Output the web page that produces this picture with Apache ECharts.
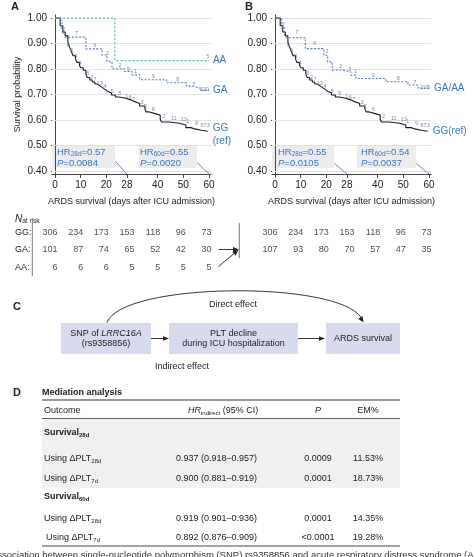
<!DOCTYPE html>
<html><head><meta charset="utf-8">
<script src="https://cdn.jsdelivr.net/npm/echarts@6/dist/echarts.min.js"></script>
<style>html,body{margin:0;padding:0;background:#fff}#c{width:474px;height:557px}</style>
</head><body><div id="c"></div>
<script>
// ---------------- DATA ----------------
const xTicks = [0, 10, 20, 28, 40, 50, 60];
const yTicks = [0.4, 0.5, 0.6, 0.7, 0.8, 0.9, 1.0];

// Kaplan-Meier curves [day, survival]
const ggCurve = [[0,1.00],[2,0.97],[3,0.945],[4,0.93],[5,0.905],[5.5,0.89],[6,0.877],[6.5,0.865],[7,0.852],[8,0.838],[8.5,0.826],[9.5,0.815],[10,0.805],[11,0.795],[12,0.78],[12.5,0.767],[13.5,0.757],[14.5,0.749],[15.5,0.741],[16.5,0.734],[17.5,0.727],[18.5,0.72],[19.5,0.713],[20.5,0.706],[22,0.698],[23.5,0.69],[25,0.685],[27.5,0.679],[29.5,0.672],[31,0.665],[33,0.655],[35,0.645],[35.5,0.632],[36.5,0.625],[39,0.619],[41,0.603],[41.5,0.592],[44.5,0.587],[48.5,0.58],[51,0.57],[53,0.565],[54.5,0.56],[57,0.556],[59.5,0.556]];
const gaCurve = [[0,1.00],[2,0.965],[3,0.94],[3.8,0.925],[12,0.879],[18.3,0.855],[20.2,0.829],[22.2,0.801],[27,0.79],[30,0.777],[33,0.758],[43.5,0.746],[51.3,0.733],[52.8,0.726],[56.5,0.717],[60,0.717]];
const aaCurve = [[0,1.00],[23.3,0.833],[60,0.833]];
const gaaaCurve = [[0,1.00],[2.6,0.967],[3.5,0.94],[4,0.923],[11.8,0.88],[19,0.854],[20.5,0.828],[22.3,0.796],[26.2,0.789],[29.5,0.776],[31.5,0.763],[43.2,0.75],[51.8,0.737],[55.7,0.725],[60,0.725]];

// censoring counts printed along the curves [day, survival, count]
const ggCensor = [[2.7,0.962,'2'],[5.2,0.893,'6'],[6.5,0.872,'6'],[8,0.848,'3'],[9.7,0.823,'4'],[12.8,0.782,'6'],[14.3,0.768,'2'],[15.6,0.757,'7'],[17.4,0.744,'13'],[19.5,0.73,'4'],[22.3,0.713,'5'],[25.2,0.705,'5'],[28,0.693,'1'],[29.3,0.689,'6'],[30.7,0.681,'7'],[33.9,0.667,'3'],[35.2,0.652,'2'],[38.3,0.643,'6'],[42.3,0.615,'2'],[46.3,0.604,'11'],[50.2,0.6,'13'],[51.7,0.594,'1'],[55.2,0.588,'9'],[58.5,0.58,'673']];
const gaCensor = [[2.6,0.982,'2'],[3.4,0.955,'2'],[8.4,0.94,'7'],[15.6,0.893,'6'],[20.5,0.862,'2'],[25.3,0.812,'2'],[28.6,0.8,'5'],[31.4,0.79,'1'],[38.3,0.772,'9'],[47.8,0.76,'8'],[54.2,0.741,'7'],[58.2,0.72,'220']];
const aaCensor = [[59.5,0.848,'5']];
const gaaaCensor = [[3.2,0.975,'2'],[8.5,0.942,'7'],[15.5,0.902,'6'],[20.3,0.868,'2'],[25.6,0.81,'2'],[29.1,0.8,'3'],[31.5,0.792,'1'],[38.3,0.774,'9'],[48,0.762,'8'],[54.5,0.748,'7'],[58.6,0.726,'225']];

// hazard-ratio annotations
const hrA = [['28d','0.57','0.0084'],['60d','0.55','0.0020']];
const hrB = [['28d','0.55','0.0105'],['60d','0.54','0.0037']];

// numbers at risk
const riskDays = [0, 10, 20, 30, 40, 50, 60];
const riskGroups = ['GG', 'GA', 'AA'];
const riskA_GG = [306, 234, 173, 153, 118, 96, 73];
const riskA_GA = [101, 87, 74, 65, 52, 42, 30];
const riskA_AA = [6, 6, 6, 5, 5, 5, 5];
const riskB_GG = [306, 234, 173, 153, 118, 96, 73];
const riskB_GAAA = [107, 93, 80, 70, 57, 47, 35];

// mediation table
const tblGroups = ['28d', '60d'];
const tblPlt = ['28d', '7d', '28d', '7d'];
const tblHR = ['0.937 (0.918\u20130.957)', '0.900 (0.881\u20130.919)', '0.919 (0.901\u20130.936)', '0.892 (0.876\u20130.909)'];
const tblP = ['0.0009', '0.0001', '0.0001', '<0.0001'];
const tblEM = ['11.53%', '18.73%', '14.35%', '19.28%'];

// ---------------- STYLE ----------------
const FONT = '"Liberation Sans", Arial, Helvetica, sans-serif';
const BLUE = '#3a78c4';
const NUMC = '#4f6ea8';
const GA_COL = '#5a7dbd';
const AA_COL = '#45c59c';
const TXT = '#222';

const chart = echarts.init(document.getElementById('c'), null, {renderer: 'canvas', width: 474, height: 557});

const XMIN = -1.2, XMAX = 60.8, YMIN = 0.388, YMAX = 1.012;

function plotX(gi) {
  return {type: 'value', gridIndex: gi, min: XMIN, max: XMAX,
    name: 'ARDS survival (days after ICU admission)', nameLocation: 'middle', nameGap: 23,
    nameTextStyle: {fontSize: 9, color: TXT, fontFamily: FONT},
    axisLine: {show: true, onZero: false, lineStyle: {color: '#444', width: 1}},
    axisTick: {show: true, customValues: xTicks, length: 4, lineStyle: {color: '#444'}},
    axisLabel: {customValues: xTicks, fontSize: 10, color: TXT, margin: 6, fontFamily: FONT},
    splitLine: {show: false}};
}
function plotY(gi, named) {
  return {type: 'value', gridIndex: gi, min: YMIN, max: YMAX,
    name: named ? 'Survival probability' : '', nameLocation: 'middle', nameGap: 30,
    nameTextStyle: {fontSize: 9, color: TXT, fontFamily: FONT},
    axisLine: {show: true, lineStyle: {color: '#444', width: 1}},
    axisTick: {show: true, customValues: yTicks, length: 4, lineStyle: {color: '#444'}},
    axisLabel: {customValues: yTicks, formatter: v => v.toFixed(2), fontSize: 10, color: TXT, margin: 5, fontFamily: FONT},
    splitLine: {show: false}};
}
function riskX(gi) { return {type: 'value', gridIndex: gi, min: XMIN, max: XMAX, show: false}; }
function riskY(gi, showLabels) {
  return {type: 'category', gridIndex: gi, data: riskGroups, inverse: true,
    axisLine: {show: false}, axisTick: {show: false}, splitLine: {show: false},
    axisLabel: {show: showLabels, align: 'left', margin: 37, formatter: v => v + ':', fontSize: 9, color: TXT, fontFamily: FONT}};
}

const gridMarks = yTicks.map(v => ({yAxis: v, lineStyle: {color: '#e2e2e2', width: 1, type: 'solid'}}));
function diag(x1, y1, x2, y2) {
  return [{coord: [x1, y1], lineStyle: {color: '#4a6fa5', width: 0.8, type: 'solid'}}, {coord: [x2, y2]}];
}
const boxStyle = {color: '#ececec'};

function kmLine(name, xi, data, color, dash, endText, endOpt) {
  return {type: 'line', name, xAxisIndex: xi, yAxisIndex: xi, data, step: 'end', symbol: 'none', z: 3,
    lineStyle: {color, width: 1.1, type: dash},
    endLabel: Object.assign({show: true, formatter: endText, color: BLUE, fontSize: 10, fontFamily: FONT, distance: 4, lineHeight: 13}, endOpt || {})};
}
function censor(xi, data, color) {
  return {type: 'scatter', xAxisIndex: xi, yAxisIndex: xi, data, symbolSize: 0, z: 4, silent: true,
    itemStyle: {color: 'transparent'},
    label: {show: true, position: 'inside', formatter: p => p.value[2], fontSize: 5.5, color, fontFamily: FONT}};
}
function riskSeries(xi, group, vals) {
  return {type: 'scatter', xAxisIndex: xi, yAxisIndex: xi, symbolSize: 0, silent: true,
    data: vals.map((v, i) => [riskDays[i], group, v]),
    itemStyle: {color: 'transparent'},
    label: {show: true, position: 'inside', align: 'right', offset: [2.5, 0], formatter: p => String(p.value[2]), fontSize: 9, color: TXT, fontFamily: FONT}};
}

const ggA = kmLine('GG', 0, ggCurve, '#1b1b1b', 'solid', 'GG\n(ref)', {distance: 5, offset: [0, 4]});
ggA.markLine = {silent: true, symbol: 'none', label: {show: false}, z: 1,
  data: gridMarks.concat([diag(23.4, 0.439, 28, YMIN), diag(55.3, 0.433, 60, YMIN)])};
ggA.markArea = {silent: true, itemStyle: boxStyle, z: 0,
  data: [[{xAxis: XMIN, yAxis: 0.412}, {xAxis: 23.4, yAxis: 0.498}], [{xAxis: 32.7, yAxis: 0.412}, {xAxis: 55.3, yAxis: 0.498}]]};

const ggB = kmLine('GG', 1, ggCurve, '#1b1b1b', 'solid', 'GG(ref)', {distance: 5});
ggB.markLine = {silent: true, symbol: 'none', label: {show: false}, z: 1,
  data: gridMarks.concat([diag(23.1, 0.43, 28, YMIN), diag(54.9, 0.43, 60, YMIN)])};
ggB.markArea = {silent: true, itemStyle: boxStyle, z: 0,
  data: [[{xAxis: XMIN, yAxis: 0.412}, {xAxis: 23.1, yAxis: 0.498}], [{xAxis: 31.9, yAxis: 0.412}, {xAxis: 54.9, yAxis: 0.498}]]};

const series = [
  ggA,
  kmLine('GA', 0, gaCurve, GA_COL, [2, 1.6], 'GA', {distance: 4}),
  kmLine('AA', 0, aaCurve, AA_COL, [2, 2], 'AA', {distance: 4}),
  censor(0, ggCensor, NUMC), censor(0, gaCensor, NUMC), censor(0, aaCensor, NUMC),
  ggB,
  kmLine('GA/AA', 1, gaaaCurve, GA_COL, [2, 1.6], 'GA/AA', {distance: 5}),
  censor(1, ggCensor, NUMC), censor(1, gaaaCensor, NUMC),
  riskSeries(2, 'GG', riskA_GG), riskSeries(2, 'GA', riskA_GA), riskSeries(2, 'AA', riskA_AA),
  riskSeries(3, 'GG', riskB_GG), riskSeries(3, 'GA', riskB_GAAA)
];

// ---------------- GRAPHICS (annotations, diagram, table) ----------------
const G = [];
function T(x, y, text, opt) {
  const st = Object.assign({text, fill: TXT, fontSize: 9, fontFamily: FONT, align: 'left', verticalAlign: 'middle'}, opt || {});
  st.textAlign = st.align; st.textVerticalAlign = st.verticalAlign;
  G.push({type: 'text', x, y, silent: true, z: 10, style: st});
}
function R(name, opt) { return Object.assign({fontSize: 9, fontFamily: FONT, fill: TXT, lineHeight: 11}, opt || {}); }
function L(x1, y1, x2, y2, stroke, w) { G.push({type: 'line', silent: true, z: 10, shape: {x1, y1, x2, y2}, style: {stroke: stroke || '#222', lineWidth: w || 1}}); }
function AH(tx, ty, dx, dy, len, half) {
  len = len || 6; half = half || 2.5;
  const n = Math.hypot(dx, dy), ux = dx / n, uy = dy / n, bx = tx - ux * len, by = ty - uy * len;
  G.push({type: 'polygon', silent: true, z: 10, shape: {points: [[tx, ty], [bx - uy * half, by + ux * half], [bx + uy * half, by - ux * half]]}, style: {fill: '#222'}});
}

// panel letters
T(11, 7, 'A', {fontSize: 11, fontWeight: 'bold'});
T(245, 7, 'B', {fontSize: 11, fontWeight: 'bold'});
T(13, 307, 'C', {fontSize: 11, fontWeight: 'bold'});
T(13, 393, 'D', {fontSize: 11, fontWeight: 'bold'});

// HR annotations
const hrRich = {
  n: R('n', {fontSize: 9.5, fill: BLUE, lineHeight: 10.5}),
  s: R('s', {fontSize: 6.5, fill: BLUE, lineHeight: 10.5, verticalAlign: 'bottom'}),
  i: R('i', {fontSize: 9.5, fill: BLUE, lineHeight: 10.5, fontStyle: 'italic'})
};
function hr(x, a) { T(x, 147.5, `{n|HR}{s|${a[0]}}{n|=${a[1]}}\n{i|P}{n|=${a[2]}}`, {rich: hrRich, verticalAlign: 'top'}); }
hr(57, hrA[0]); hr(140, hrA[1]); hr(278, hrB[0]); hr(361, hrB[1]);

// numbers at risk header & frame
T(15, 219, '{i|N}{s|at risk}', {rich: {i: R('i', {fontStyle: 'italic', fontSize: 10}), s: R('s', {fontSize: 6.5, verticalAlign: 'bottom'})}});
L(32.3, 223, 32.3, 276, '#555', 0.8);
L(239.3, 223, 239.3, 258, '#555', 0.8);
L(218.5, 249.5, 235, 249.5, '#222', 0.9); AH(239, 249.5, 1, 0, 6, 2.5);
L(218.5, 266.5, 235.5, 252.3, '#222', 0.9); AH(238.5, 249.8, 19.7, -16.7, 6, 2.5);

// panel C diagram
const boxFill = '#d8dbef';
G.push({type: 'rect', silent: true, z: 9, shape: {x: 61, y: 323, width: 90, height: 31}, style: {fill: boxFill}});
G.push({type: 'rect', silent: true, z: 9, shape: {x: 169, y: 323, width: 129, height: 31}, style: {fill: boxFill}});
G.push({type: 'rect', silent: true, z: 9, shape: {x: 326, y: 323, width: 74, height: 31}, style: {fill: boxFill}});
const cRich = {n: R('n', {lineHeight: 10.5}), it: R('it', {fontStyle: 'italic', lineHeight: 10.5})};
T(106, 338.5, '{n|SNP of }{it|LRRC16A}\n{n|(rs9358856)}', {align: 'center', rich: cRich});
T(233.5, 338.5, '{n|PLT decline}\n{n|during ICU hospitalization}', {align: 'center', rich: cRich});
T(363, 338.5, 'ARDS survival', {align: 'center'});
L(151, 338.5, 164, 338.5, '#222', 0.9); AH(169, 338.5, 1, 0, 6, 2.3);
L(298, 338.5, 320, 338.5, '#222', 0.9); AH(325, 338.5, 1, 0, 6, 2.3);
G.push({type: 'bezierCurve', silent: true, z: 10, shape: {x1: 107, y1: 322.5, x2: 361.5, y2: 318, cpx1: 122, cpy1: 282, cpx2: 338, cpy2: 280}, style: {stroke: '#222', lineWidth: 0.9, fill: null}});
AH(363.5, 322.5, 23.5, 38, 6, 2.5);
T(233, 305, 'Direct effect', {align: 'center'});
T(182, 367, 'Indirect effect', {align: 'center'});

// panel D table
T(42, 393, 'Mediation analysis', {fontWeight: 'bold'});
G.push({type: 'rect', silent: true, z: 8, shape: {x: 42, y: 419, width: 358, height: 69}, style: {fill: '#f0f0f0'}});
L(42, 400, 400, 400, '#333', 1.2);
L(42, 418.5, 400, 418.5, '#666', 1.2);
L(42, 546, 400, 546, '#444', 1);
const tRich = {
  n: R('n'), i: R('i', {fontStyle: 'italic'}),
  s: R('s', {fontSize: 6, verticalAlign: 'bottom'}),
  b: R('b', {fontWeight: 'bold'}),
  bs: R('bs', {fontWeight: 'bold', fontSize: 6, verticalAlign: 'bottom'})
};
T(44, 410.5, 'Outcome');
T(188, 410.5, '{i|HR}{s|indirect}{n| (95% CI)}', {rich: tRich});
T(318, 410.5, 'P', {align: 'center', fontStyle: 'italic'});
T(368, 410.5, 'EM%', {align: 'center'});
const groupY = [433, 497];
const rowY = [459, 479, 519, 538];
tblGroups.forEach((g, k) => T(44, groupY[k], `{b|Survival}{bs|${g}}`, {rich: tRich}));
tblPlt.forEach((s, k) => {
  T(k === 3 ? 46 : 44, rowY[k], `{n|Using \u0394PLT}{s|${s}}`, {rich: tRich});
  T(216.5, rowY[k], tblHR[k], {align: 'center'});
  T(318, rowY[k], tblP[k], {align: 'center'});
  T(368, rowY[k], tblEM[k], {align: 'center'});
});
T(-8, 555, 'association between single-nucleotide polymorphism (SNP) rs9358856 and acute respiratory distress syndrome (ARDS) survival', {fontSize: 9.5, fill: '#333'});

chart.setOption({
  animation: false,
  textStyle: {fontFamily: FONT},
  grid: [
    {left: 52, top: 15, width: 159, height: 159},
    {left: 272, top: 15, width: 159, height: 159},
    {left: 52, top: 224, width: 159, height: 52},
    {left: 272, top: 224, width: 159, height: 52}
  ],
  xAxis: [plotX(0), plotX(1), riskX(2), riskX(3)],
  yAxis: [plotY(0, true), plotY(1, false), riskY(2, true), riskY(3, false)],
  series,
  graphic: {elements: G}
});
</script></body></html>
